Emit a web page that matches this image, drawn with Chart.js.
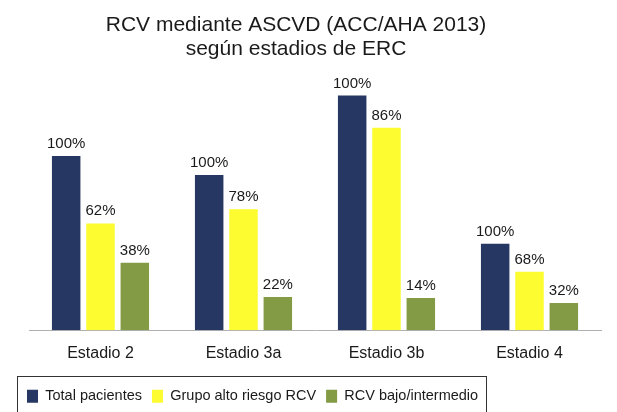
<!DOCTYPE html>
<html>
<head>
<meta charset="utf-8">
<script src="https://cdn.jsdelivr.net/npm/chart.js@4.4.1/dist/chart.umd.min.js"></script>
<style>
  html, body { margin: 0; padding: 0; background: #ffffff; }
  #wrap { width: 617px; height: 412px; position: relative; }
</style>
</head>
<body>
<div id="wrap"><canvas id="c" width="617" height="412"></canvas></div>
<script>
const categories = ['Estadio 2', 'Estadio 3a', 'Estadio 3b', 'Estadio 4'];
const seriesNames = ['Total pacientes', 'Grupo alto riesgo RCV', 'RCV bajo/intermedio'];
const totalValues = [173, 154, 233, 86];
const altoValues = [106, 120, 201, 58];
const bajoValues = [67, 33, 32, 27];
const totalLabels = ['100%', '100%', '100%', '100%'];
const altoLabels = ['62%', '78%', '86%', '68%'];
const bajoLabels = ['38%', '22%', '14%', '32%'];
const titleLines = ['RCV mediante ASCVD (ACC/AHA 2013)', 'según estadios de ERC'];

const FONT = "'Liberation Sans', Arial, Helvetica, sans-serif";
const colors = ['#263763', '#fcfc30', '#839b44'];
const pctLabels = [totalLabels, altoLabels, bajoLabels];

const valueLabelPlugin = {
  id: 'valueLabels',
  afterDatasetsDraw(chart) {
    const ctx = chart.ctx;
    ctx.save();
    ctx.font = '15px ' + FONT;
    ctx.fillStyle = '#1a1a1a';
    ctx.textAlign = 'center';
    ctx.textBaseline = 'alphabetic';
    chart.data.datasets.forEach((ds, di) => {
      const meta = chart.getDatasetMeta(di);
      meta.data.forEach((el, i) => {
        ctx.fillText(pctLabels[di][i], el.x, el.y - 8);
      });
    });
    ctx.restore();
  }
};

const layoutTweakPlugin = {
  id: 'layoutTweak',
  beforeDraw(chart) {
    const lg = chart.legend;
    if (lg) {
      const h = lg.bottom - lg.top;
      lg.left = 17; lg.right = 617; lg.width = 600;
      lg.top = 379; lg.bottom = 379 + h;
    }
    const tb = chart.titleBlock;
    if (tb) {
      tb.left = 96; tb.right = 496; tb.width = 400;
    }
  },
  afterDraw(chart) {
    const ctx = chart.ctx;
    ctx.save();
    ctx.strokeStyle = '#333333';
    ctx.lineWidth = 1;
    ctx.strokeRect(17.5, 376.5, 469, 60);
    ctx.restore();
  }
};

new Chart(document.getElementById('c'), {
  type: 'bar',
  data: {
    labels: categories,
    datasets: [
      { label: seriesNames[0], data: totalValues, backgroundColor: colors[0] },
      { label: seriesNames[1], data: altoValues, backgroundColor: colors[1] },
      { label: seriesNames[2], data: bajoValues, backgroundColor: colors[2] }
    ]
  },
  options: {
    responsive: false,
    animation: false,
    devicePixelRatio: 1,
    layout: { padding: { left: 29, right: 16, top: 0, bottom: 0 } },
    datasets: { bar: { categoryPercentage: 0.72, barPercentage: 0.83 } },
    scales: {
      x: {
        grid: { display: false, drawTicks: false },
        border: { display: true, color: '#b0b0b0', width: 1 },
        ticks: { color: '#1a1a1a', font: { family: FONT, size: 16 }, padding: 14 }
      },
      y: {
        display: false,
        min: 0,
        max: 259
      }
    },
    plugins: {
      title: {
        display: true,
        text: titleLines,
        color: '#1a1a1a',
        font: { family: FONT, size: 21, weight: 'normal', lineHeight: 1.15 },
        padding: { top: 13, bottom: 8 }
      },
      legend: {
        display: true,
        position: 'bottom',
        align: 'start',
        labels: {
          color: '#1a1a1a',
          font: { family: FONT, size: 14.5 },
          boxWidth: 11,
          boxHeight: 13,
          padding: 10
        }
      },
      tooltip: { enabled: false }
    }
  },
  plugins: [valueLabelPlugin, layoutTweakPlugin]
});
</script>
</body>
</html>
